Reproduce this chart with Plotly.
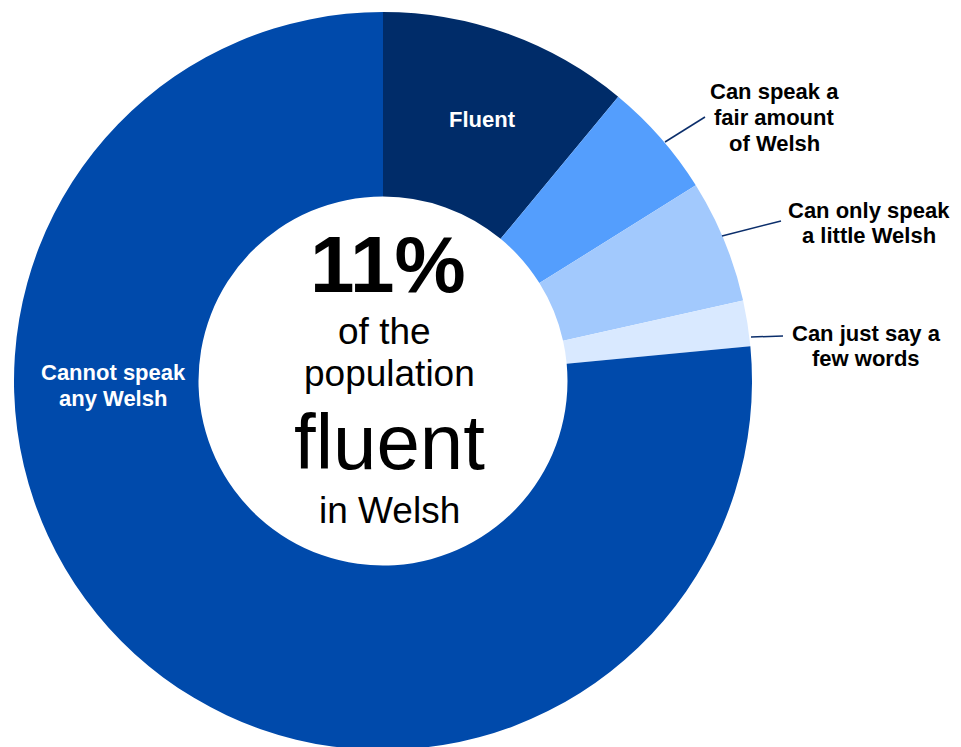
import plotly.graph_objects as go

# ---- data ----
categories = ["Fluent", "Can speak a fair amount of Welsh", "Can only speak a little Welsh",
              "Can just say a few words", "Cannot speak any Welsh"]
label_lines = [["Fluent"], ["Can speak a", "fair amount", "of Welsh"], ["Can only speak", "a little Welsh"],
               ["Can just say a", "few words"], ["Cannot speak", "any Welsh"]]
values = [11.0, 5.1, 5.4, 2.0, 76.5]
colors = ["#002C69", "#549EFD", "#A2C9FD", "#D9E9FF", "#004AAB"]
headline = "11%"
sub_lines = ["of the", "population", "fluent", "in Welsh"]

W, H = 961, 747
OFF = 8  # page body margin offset

def px(x, y):
    return (x - OFF) / W, 1 - (y - OFF) / H

fig = go.Figure()
fig.add_trace(go.Pie(
    labels=categories, values=values, sort=False, direction="clockwise", rotation=0,
    hole=0.5, marker=dict(colors=colors, line=dict(width=0)),
    textinfo="none", hoverinfo="label+percent", showlegend=False,
    domain=dict(x=[6 / W, 744 / W], y=[5 / H, 743 / H]),
))

FONT = "Liberation Sans, Arial, sans-serif"
ann = []
def add(text, x, y, size, color="black", bold=False):
    t = f"<b>{text}</b>" if bold else text
    xp, yp = px(x, y)
    ann.append(dict(text=t, x=xp, y=yp, xref="paper", yref="paper", showarrow=False,
                    xanchor="center", yanchor="middle",
                    font=dict(family=FONT, size=size, color=color)))

# center text
add(headline, 388, 264, 80, bold=True)
add(sub_lines[0], 384, 331, 37)
add(sub_lines[1], 389, 373, 37)
add(sub_lines[2], 389, 442, 78)
add(sub_lines[3], 389, 510, 37)

# slice labels (one annotation per line)
label_pos = [(482, [120], "white"),
             (774, [92, 117.5, 143], "black"),
             (869, [210, 235.5], "black"),
             (866, [333, 358], "black"),
             (113, [372.5, 398], "white")]
for lines_, (x, ys, col) in zip(label_lines, label_pos):
    for txt, y in zip(lines_, ys):
        add(txt, x, y, 22, color=col, bold=True)

shapes = []
leaders = [((665, 142), (705, 117)), ((722, 236), (781, 221)), ((751, 337), (783, 336))]
for (x0, y0), (x1, y1) in leaders:
    a, b = px(x0, y0)
    c, d = px(x1, y1)
    shapes.append(dict(type="line", xref="paper", yref="paper", x0=a, y0=b, x1=c, y1=d,
                       line=dict(color="#0B2E6B", width=1.5)))

fig.update_layout(
    width=W, height=H, margin=dict(l=0, r=0, t=0, b=0),
    paper_bgcolor="white", plot_bgcolor="white",
    annotations=ann, shapes=shapes,
)
fig.write_html("out.html")
